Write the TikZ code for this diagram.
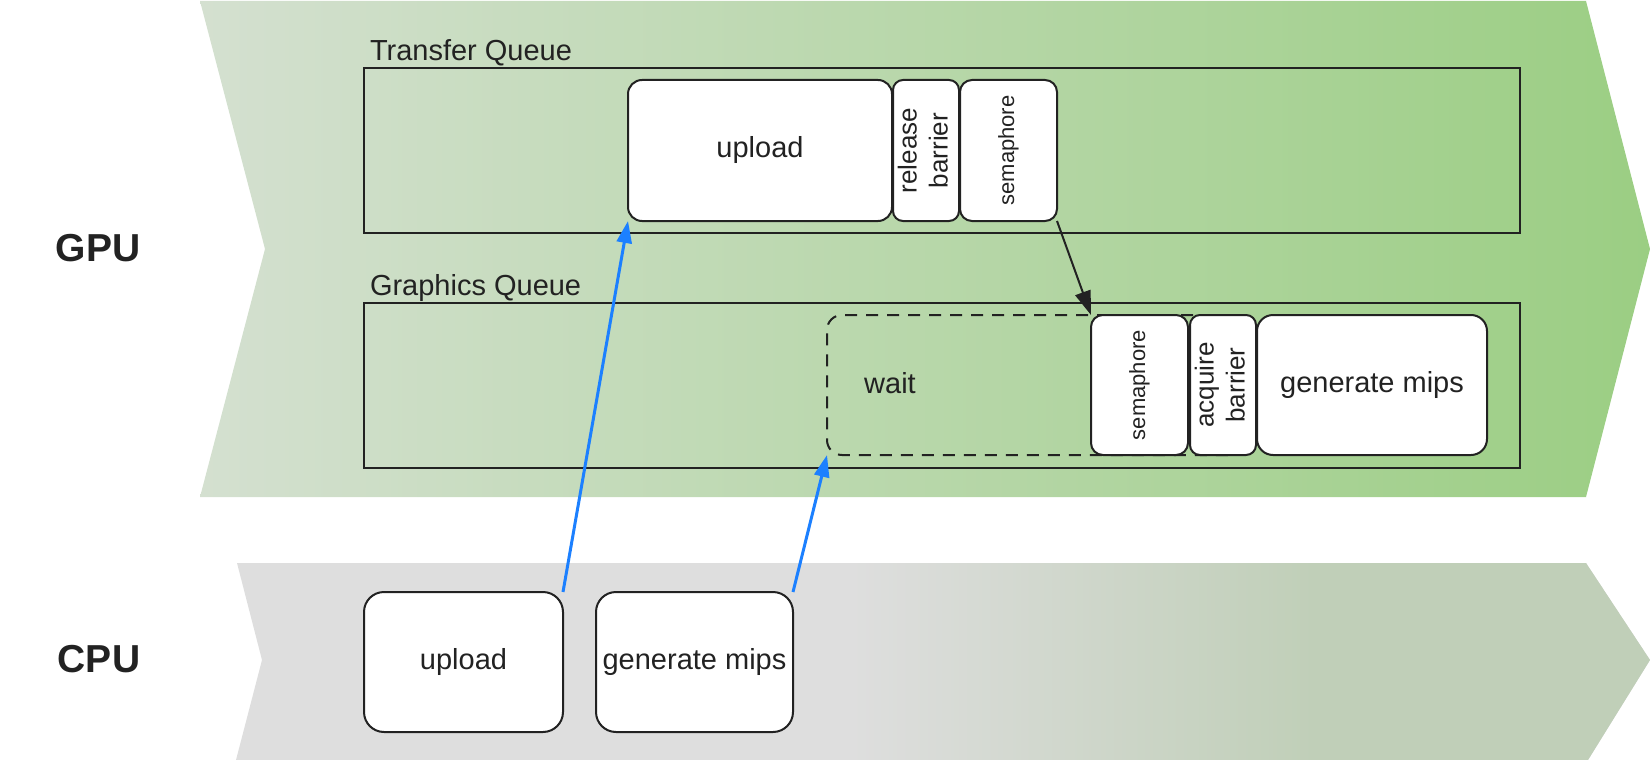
\documentclass[tikz,border=0pt]{standalone}
\usepackage{fontspec}
\setmainfont{Liberation Sans}
\usepackage{graphicx}
\usetikzlibrary{arrows.meta}
\definecolor{ink}{RGB}{34,34,34}
\definecolor{gpuL}{RGB}{212,224,208}
\definecolor{gpuR}{RGB}{155,206,131}
\definecolor{cpuL}{RGB}{222,222,222}
\definecolor{cpuR}{RGB}{192,207,184}
\definecolor{arrowblue}{RGB}{28,128,255}
\newcommand\fmain{\fontsize{29}{34}\selectfont}
\newcommand\fbar{\fontsize{26}{31}\selectfont}
\newcommand\fsem{\fontsize{22}{26}\selectfont}
\newcommand\fbig{\fontsize{39}{46}\selectfont\bfseries}
\begin{document}
\begin{tikzpicture}[x=1pt,y=-1pt,
  every node/.style={inner sep=0pt, outer sep=0pt, text=ink},
  qbox/.style={draw=ink, line width=2pt, rectangle},
  qlabel/.style={anchor=base west, font=\fmain},
  big/.style={font=\fbig},
  stage/.style={draw=ink, line width=2pt, fill=white, rectangle, rounded corners=14pt, align=center, font=\fmain},
  waitbox/.style={draw=ink, line width=2pt, rectangle, rounded corners=15pt, dash pattern=on 12pt off 9pt},
  blackarrow/.style={draw=ink, line width=2pt, -{Triangle[length=24pt,width=16pt]}},
  bluearrow/.style={draw=arrowblue, line width=3pt, -{Triangle[length=22pt,width=15pt]}}
]
\useasboundingbox (0,0) rectangle (1650,760);
% GPU band
\shade[left color=gpuL, right color=gpuR] (200,1) -- (1586,1) -- (1650,249) -- (1586,497) -- (200,497) -- (265,249) -- cycle;
% CPU band
\begin{scope}
\clip (237,563) -- (1586,563) -- (1650,660) -- (1588,760) -- (236,760) -- (262,660) -- cycle;
\fill[cpuL] (230,560) rectangle (1650,760);
\shade[left color=cpuL, right color=cpuR] (850,560) rectangle (1315,760);
\fill[cpuR] (1314,560) rectangle (1650,760);
\end{scope}
% labels
\node[big] (gpu) at (98,248) {GPU};
\node[big] (cpu) at (99,659) {CPU};
\node[qlabel] (tql) at (370,60) {Transfer Queue};
\node[qlabel] (gql) at (370,295) {Graphics Queue};
% queues
\node[qbox, minimum width=1156pt, minimum height=165pt] (tq) at (942,150.5) {};
\node[qbox, minimum width=1156pt, minimum height=165pt] (gq) at (942,385.5) {};
% wait
\node[waitbox, minimum width=423pt, minimum height=140pt] (wait) at (1038.5,385) {};
\node[font=\fmain] (waitlbl) at (890,383) {wait};
% transfer stages
\node[stage, minimum width=264pt, minimum height=141pt] (tup) at (760,150.5) {upload};
\node[stage, minimum width=66pt, minimum height=141pt, rounded corners=10pt, font=\fbar] (trel) at (926,150.5) {\rotatebox{90}{\begin{tabular}{@{}c@{}}release\\barrier\end{tabular}}};
\node[stage, minimum width=97pt, minimum height=141pt, rounded corners=12pt, font=\fsem] (tsem) at (1008.5,150.5) {\rotatebox{90}{semaphore}};
% graphics stages
\node[stage, minimum width=97pt, minimum height=140pt, rounded corners=12pt, font=\fsem] (gsem) at (1139.5,385) {\rotatebox{90}{semaphore}};
\node[stage, minimum width=66pt, minimum height=140pt, rounded corners=10pt, font=\fbar] (gacq) at (1223,385) {\rotatebox{90}{\begin{tabular}{@{}c@{}}acquire\\barrier\end{tabular}}};
\node[stage, minimum width=230pt, minimum height=140pt, rounded corners=16pt] (ggen) at (1372,385) {generate mips};
% CPU stages
\node[stage, minimum width=199pt, minimum height=140pt, rounded corners=20pt] (cup) at (463.5,662) {upload};
\node[stage, minimum width=197pt, minimum height=140pt, rounded corners=20pt] (cgen) at (694.5,662) {generate mips};
% connectors
\draw[blackarrow] (tsem.south east) -- (gsem.north west);
\draw[bluearrow] (cup.north east) -- (tup.south west);
\draw[bluearrow] (cgen.north east) -- (wait.south west);
\end{tikzpicture}
\end{document}
